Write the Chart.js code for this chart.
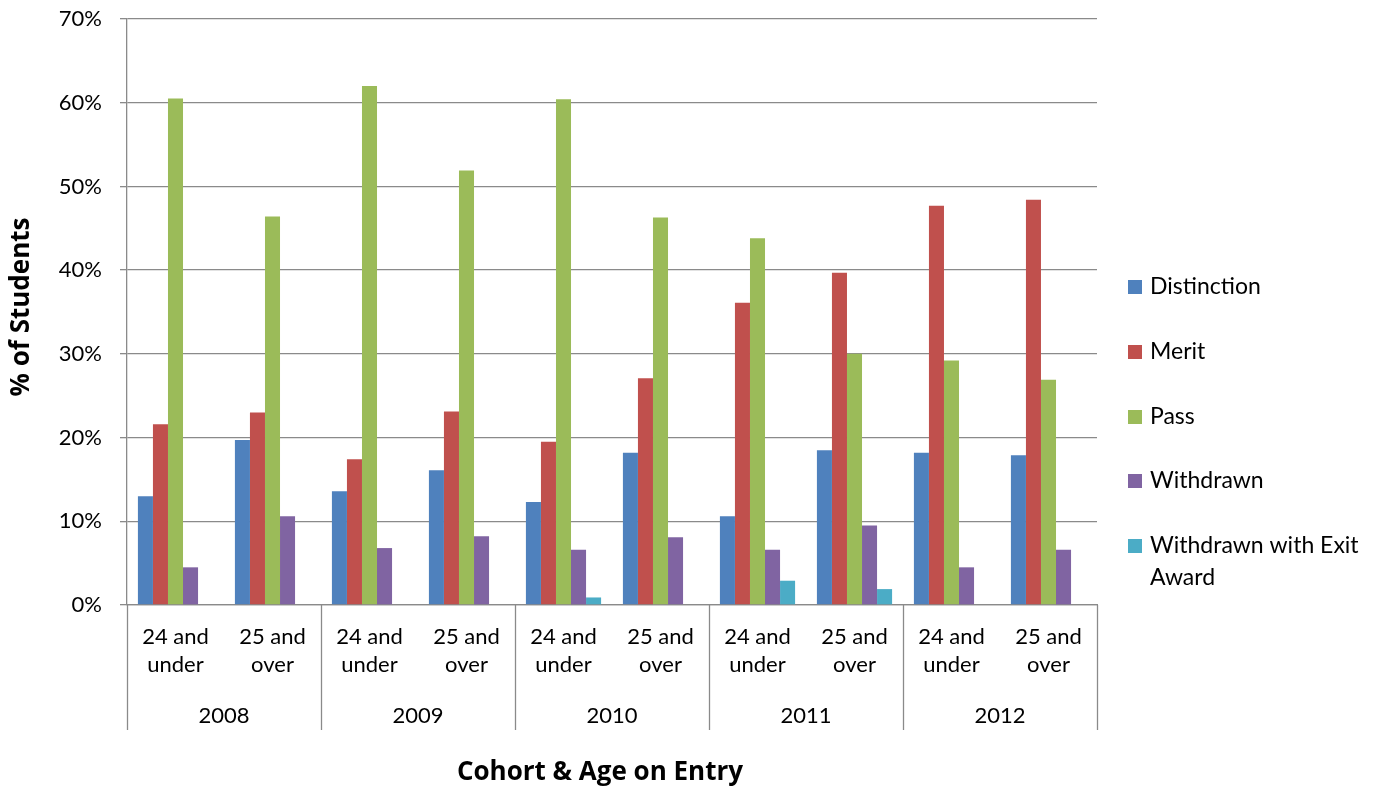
<!DOCTYPE html>
<html lang="en">
<head>
<meta charset="UTF-8">
<title>Cohort &amp; Age on Entry</title>
<script src="https://cdn.jsdelivr.net/npm/chart.js"></script>
<style>
    html, body { margin: 0; padding: 0; background: #fff; }
    #wrap { width: 1390px; height: 792px; position: relative; }
</style>
</head>
<body>
<div id="wrap"><canvas id="chart"></canvas></div>
<script>
    const years = ['2008', '2009', '2010', '2011', '2012'];
    const ageGroups = [['24 and', 'under'], ['25 and', 'over']];
    const seriesNames = ['Distinction', 'Merit', 'Pass', 'Withdrawn', 'Withdrawn with Exit Award'];
    const distinction = [13.0, 19.7, 13.6, 16.1, 12.3, 18.2, 10.6, 18.5, 18.2, 17.9];
    const merit       = [21.6, 23.0, 17.4, 23.1, 19.5, 27.1, 36.1, 39.7, 47.7, 48.4];
    const pass        = [60.5, 46.4, 62.0, 51.9, 60.4, 46.3, 43.8, 30.0, 29.2, 26.9];
    const withdrawn   = [4.5, 10.6, 6.8, 8.2, 6.6, 8.1, 6.6, 9.5, 4.5, 6.6];
    const exitAward   = [null, null, null, null, 0.9, null, 2.9, 1.9, null, null];
    const yTicks = [0, 10, 20, 30, 40, 50, 60, 70];

    const colors = ['#4F81BD', '#C0504D', '#9BBB59', '#8064A2', '#4BACC6'];
    const font = 'Lato, "Open Sans", sans-serif';
    const boldFont = '"Open Sans", Lato, sans-serif';
    const lineColor = '#8a8a8a';

    // one category per cohort/age pair
    const labels = [];
    years.forEach(y => ageGroups.forEach(a => labels.push(y + ' ' + a.join(' '))));

    const values = [distinction, merit, pass, withdrawn, exitAward];
    const datasets = seriesNames.map((name, i) => ({
        label: name,
        data: values[i],
        backgroundColor: colors[i],
        borderWidth: 0,
        barPercentage: 1,
        categoryPercentage: 0.775
    }));

    // category axis labels, group dividers, legend and axis titles
    const decor = {
        id: 'decor',
        afterDraw(chart) {
            const ctx = chart.ctx;
            const area = chart.chartArea;
            const xs = chart.scales.x;
            ctx.save();
            ctx.fillStyle = '#000';
            ctx.textAlign = 'center';
            ctx.textBaseline = 'middle';

            ctx.font = '22px ' + font;
            labels.forEach((l, i) => {
                const x = xs.getPixelForValue(i);
                const a = ageGroups[i % ageGroups.length];
                ctx.fillText(a[0], x, area.bottom + 32);
                ctx.fillText(a[1], x, area.bottom + 60);
            });
            const groupW = (area.right - area.left) / years.length;
            years.forEach((y, g) => {
                ctx.fillText(y, area.left + groupW * (g + 0.5), area.bottom + 111);
            });

            ctx.strokeStyle = lineColor;
            ctx.lineWidth = 1.3;
            for (let g = 0; g <= years.length; g++) {
                const x = Math.round(area.left + groupW * g) + 0.5;
                ctx.beginPath();
                ctx.moveTo(x, area.bottom);
                ctx.lineTo(x, area.bottom + 125);
                ctx.stroke();
            }

            // legend
            ctx.textAlign = 'left';
            ctx.font = '23px ' + font;
            const rows = [[287], [352], [417], [481], [546, 578]];
            const legendLines = [['Distinction'], ['Merit'], ['Pass'], ['Withdrawn'], ['Withdrawn with Exit', 'Award']];
            seriesNames.forEach((n, i) => {
                ctx.fillStyle = colors[i];
                ctx.fillRect(1128, rows[i][0] - 7, 14, 14);
                ctx.fillStyle = '#000';
                legendLines[i].forEach((t, k) => ctx.fillText(t, 1150, rows[i][k]));
            });

            // titles
            ctx.textAlign = 'center';
            ctx.font = 'bold 26px ' + boldFont;
            ctx.fillText('Cohort & Age on Entry', 600, 773);
            ctx.translate(22, 307);
            ctx.rotate(-Math.PI / 2);
            ctx.fillText('% of Students', 0, 0);
            ctx.restore();
        }
    };

    new Chart(document.getElementById('chart'), {
        type: 'bar',
        data: { labels, datasets },
        options: {
            responsive: true,
            maintainAspectRatio: false,
            animation: false,
            layout: { padding: { left: 0, right: 293, top: 19, bottom: 187 } },
            scales: {
                x: {
                    ticks: { display: false },
                    grid: { display: false, drawTicks: false },
                    border: { color: lineColor, width: 1.3 }
                },
                y: {
                    min: 0,
                    max: 70,
                    afterFit: s => { s.width = 127; s.paddingTop = 0; s.paddingBottom = 0; },
                    afterBuildTicks: s => { s.ticks = yTicks.map(v => ({ value: v })); },
                    ticks: {
                        color: '#000',
                        font: { family: font, size: 22 },
                        padding: 18,
                        callback: v => v + '%'
                    },
                    grid: { color: lineColor, lineWidth: 1.3, tickLength: 7 },
                    border: { color: lineColor, width: 1.3 }
                }
            },
            plugins: {
                legend: { display: false },
                tooltip: { enabled: true }
            }
        },
        plugins: [decor]
    });
</script>
</body>
</html>
